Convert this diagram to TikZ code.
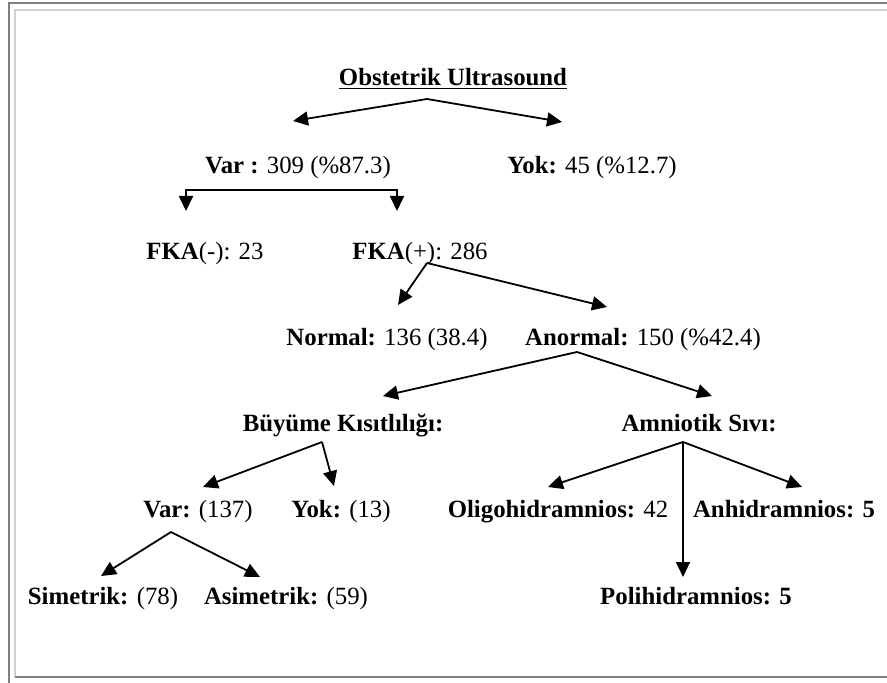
\documentclass[tikz,border=0pt]{standalone}
\usepackage{fontspec}
\setmainfont{Liberation Serif}
\usetikzlibrary{arrows.meta,positioning}
\definecolor{framelight}{HTML}{D4D0C8}
\definecolor{framedark}{HTML}{808080}

\begin{document}
\begin{tikzpicture}[x=1pt,y=1pt,on grid,>={Triangle[length=7.5pt,width=7pt]},
    lbl/.style={inner sep=0pt,text height=10pt,text depth=1.8pt,font=\fontsize{12.4}{14}\selectfont},
    arr/.style={->,line width=.9pt},
    rim/.style={line width=.85pt}]
  \useasboundingbox (0,0) rectangle (443.5,-341.5);
  % frame
  \draw[rim,framedark] (4.6,-341.5) -- (4.6,-1.4) -- (443.5,-1.4);
  \draw[rim,framelight] (7.4,-338.6) -- (7.4,-4.9) -- (443.5,-4.9);
  \draw[rim,framedark] (7.4,-338.6) -- (443.5,-338.6);

  \node[lbl] (title) at (226.5,-38.5) {\underline{\textbf{Obstetrik Ultrasound}}};
  \node[lbl] (var1) [below left=44pt and 77.5pt of title] {\textbf{Var :} 309 (\%87.3)};
  \node[lbl] (yok1) [below right=44pt and 69.5pt of title] {\textbf{Yok:} 45 (\%12.7)};
  \node[lbl] (fkaneg) [below left=43pt and 46.5pt of var1] {\textbf{FKA}(-): 23};
  \node[lbl] (fkapos) [below right=43pt and 61pt of var1] {\textbf{FKA}(+): 286};
  \node[lbl] (normal) [below left=43pt and 16.5pt of fkapos] {\textbf{Normal:} 136 (38.4)};
  \node[lbl] (anormal) [below right=43pt and 111.5pt of fkapos] {\textbf{Anormal:} 150 (\%42.4)};
  \node[lbl] (buyume) [below left=43pt and 150pt of anormal] {\textbf{Büyüme Kısıtlılığı:}};
  \node[lbl] (amniotik) [below right=43pt and 28pt of anormal] {\textbf{Amniotik Sıvı:}};
  \node[lbl] (var2) [below left=43pt and 72.5pt of buyume] {\textbf{Var:} (137)};
  \node[lbl] (yok2) [below left=43pt and 1pt of buyume] {\textbf{Yok:} (13)};
  \node[lbl] (oligo) [below left=43pt and 70.5pt of amniotik] {\textbf{Oligohidramnios:} 42};
  \node[lbl] (anhidr) [below right=43pt and 42.5pt of amniotik] {\textbf{Anhidramnios: 5}};
  \node[lbl] (poli) [below left=86.5pt and 1.5pt of amniotik] {\textbf{Polihidramnios: 5}};
  \node[lbl] (simetrik) [below left=43.5pt and 47.5pt of var2] {\textbf{Simetrik:} (78)};
  \node[lbl] (asimetrik) [below right=43.5pt and 44pt of var2] {\textbf{Asimetrik:} (59)};

  % branch points under the parents
  \coordinate (title-out) at ([shift={(-13,-11)}]title.center);
  \coordinate (var1-out) at ([yshift=-12.5]var1.center);
  \coordinate (fkapos-out) at ([shift={(3.5,-6)}]fkapos.center);
  \coordinate (anormal-out) at ([shift={(-33,-7.5)}]anormal.center);
  \coordinate (buyume-out) at ([shift={(-10.5,-9.5)}]buyume.center);
  \coordinate (amniotik-out) at ([shift={(-8,-9.5)}]amniotik.center);
  \coordinate (var2-out) at ([shift={(-13.5,-11.5)}]var2.center);
  \coordinate (fkaneg-in) at ([shift={(-9.5,20)}]fkaneg.center);
  \coordinate (fkapos-in) at ([shift={(-11.5,20)}]fkapos.center);
  \coordinate (poli-in) at ([yshift=9.5]poli.center);

  \draw[arr] (title-out) -- ([shift={(-2.5,22)}]var1.center);
  \draw[arr] (title-out) -- ([shift={(-15,21.5)}]yok1.center);
  \draw[arr,<->] (fkaneg-in) -- (fkaneg-in |- var1-out) -- (fkapos-in |- var1-out) -- (fkapos-in);
  \draw[arr] (fkapos-out) -- ([shift={(5.5,16)}]normal.center);
  \draw[arr] (fkapos-out) -- ([shift={(-18,15)}]anormal.center);
  \draw[arr] (anormal-out) -- ([shift={(20,13.5)}]buyume.center);
  \draw[arr] (anormal-out) -- ([shift={(6.5,13.5)}]amniotik.center);
  \draw[arr] (buyume-out) -- ([shift={(2.5,11)}]var2.center);
  \draw[arr] (buyume-out) -- ([shift={(-3.5,11.5)}]yok2.center);
  \draw[arr] (amniotik-out) -- ([shift={(-5,11)}]oligo.center);
  \draw[arr] (amniotik-out) -- ([shift={(9,11)}]anhidr.center);
  \draw[arr,line width=.6pt] (amniotik-out) -- (amniotik-out |- poli-in);
  \draw[arr] (var2-out) -- ([shift={(-1,10)}]simetrik.center);
  \draw[arr] (var2-out) -- ([shift={(-13,9.5)}]asimetrik.center);
\end{tikzpicture}
\end{document}
